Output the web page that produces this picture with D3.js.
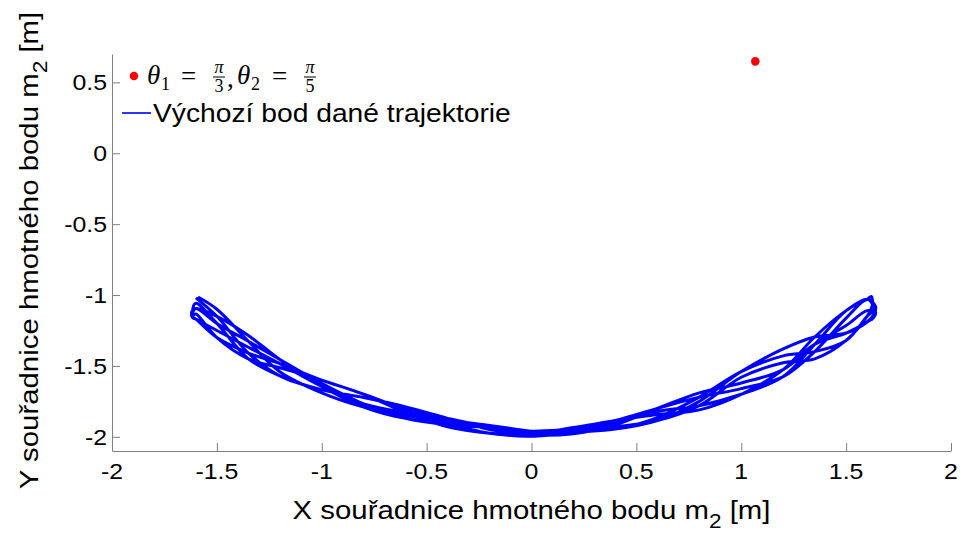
<!DOCTYPE html>
<html>
<head>
<meta charset="utf-8">
<script src="https://cdn.jsdelivr.net/npm/d3@7/dist/d3.min.js"></script>
<style>
  html, body { margin: 0; padding: 0; background: #fff; }
  svg { display: block; }
</style>
</head>
<body>
<svg id="chart" width="967" height="539"></svg>
<script>
// Axis ticks
const xTicks = [-2, -1.5, -1, -0.5, 0, 0.5, 1, 1.5, 2];
const yTicks = [-2, -1.5, -1, -0.5, 0, 0.5];
const xDomain = [-2, 2];
const yDomain = [-2.1, 0.7];

// Starting point of m2 (red marker)
const startPoint = [1.067, 0.648];

// Trajectory of m2, one array per swing, in order of travel
const swing1 = [[-1.59,-1.014],[-1.5,-1.10],[-1.35,-1.326],[-1.2,-1.541],[-1.0,-1.69],[-0.8,-1.79],[-0.6,-1.85],[-0.4,-1.885],[-0.2,-1.92],[0,-1.969],[0.2,-1.967],[0.4,-1.945],[0.6,-1.885],[0.8,-1.75],[1.0,-1.54],[1.2,-1.38],[1.35,-1.296],[1.5,-1.268],[1.6,-1.19],[1.635,-1.13],[1.64,-1.08]];
const swing2 = [[1.6,-1.03],[1.5,-1.11],[1.35,-1.296],[1.2,-1.526],[1.0,-1.70],[0.8,-1.81],[0.6,-1.843],[0.4,-1.885],[0.2,-1.935],[0,-1.978],[-0.2,-1.975],[-0.4,-1.93],[-0.6,-1.83],[-0.8,-1.70],[-1.0,-1.60],[-1.2,-1.484],[-1.35,-1.409],[-1.5,-1.30],[-1.6,-1.17],[-1.62,-1.15],[-1.615,-1.12]];
const swing3 = [[-1.6,-1.095],[-1.5,-1.20],[-1.35,-1.326],[-1.2,-1.455],[-1.0,-1.623],[-0.8,-1.768],[-0.6,-1.87],[-0.4,-1.915],[-0.2,-1.934],[0,-1.96],[0.2,-1.946],[0.4,-1.93],[0.6,-1.885],[0.8,-1.78],[1.0,-1.58],[1.2,-1.478],[1.35,-1.45],[1.5,-1.32],[1.6,-1.15],[1.625,-1.07],[1.62,-1.01]];
const swing4 = [[1.6,-1.03],[1.5,-1.11],[1.35,-1.348],[1.2,-1.575],[1.0,-1.70],[0.8,-1.78],[0.6,-1.821],[0.4,-1.885],[0.2,-1.946],[0,-1.986],[-0.2,-1.975],[-0.4,-1.90],[-0.6,-1.79],[-0.8,-1.723],[-1.0,-1.668],[-1.2,-1.57],[-1.35,-1.45],[-1.5,-1.20],[-1.6,-1.058],[-1.615,-1.10],[-1.61,-1.14]];
const swing5 = [[-1.6,-1.133],[-1.5,-1.30],[-1.35,-1.45],[-1.2,-1.513],[-1.0,-1.60],[-0.8,-1.70],[-0.6,-1.81],[-0.4,-1.915],[-0.2,-1.975],[0,-1.995],[0.2,-1.957],[0.4,-1.885],[0.6,-1.80],[0.8,-1.72],[1.0,-1.66],[1.2,-1.575],[1.35,-1.399],[1.5,-1.163],[1.6,-1.03],[1.625,-1.06],[1.635,-1.10]];
const swing6 = [[1.6,-1.15],[1.5,-1.32],[1.35,-1.399],[1.2,-1.429],[1.0,-1.54],[0.8,-1.72],[0.6,-1.864],[0.4,-1.945],[0.2,-1.957],[0,-1.96],[-0.2,-1.92],[-0.4,-1.90],[-0.6,-1.87],[-0.8,-1.79],[-1.0,-1.645],[-1.2,-1.455],[-1.35,-1.285],[-1.5,-1.15],[-1.6,-1.095],[-1.62,-1.12],[-1.615,-1.16]];
const swing7 = [[-1.6,-1.17],[-1.5,-1.25],[-1.35,-1.368],[-1.2,-1.484],[-1.0,-1.645],[-0.8,-1.768],[-0.6,-1.83],[-0.4,-1.87],[-0.2,-1.934],[0,-1.986],[0.2,-1.978],[0.4,-1.915],[0.6,-1.80],[0.8,-1.69],[1.0,-1.62],[1.2,-1.526],[1.35,-1.348],[1.5,-1.215],[1.6,-1.11],[1.64,-1.12],[1.63,-1.16]];
const swing8 = [[1.6,-1.19],[1.5,-1.268],[1.35,-1.348],[1.2,-1.526],[1.0,-1.70],[0.8,-1.78],[0.6,-1.821],[0.4,-1.90],[0.2,-1.967],[0,-1.995],[-0.2,-1.948],[-0.4,-1.87],[-0.6,-1.79],[-0.8,-1.723],[-1.0,-1.668],[-1.2,-1.57],[-1.35,-1.409],[-1.5,-1.15],[-1.6,-1.02]];

const trajectory = [swing1, swing2, swing3, swing4, swing5, swing6, swing7, swing8].flat();

// Layout
const W = 967, H = 539;
const margin = { left: 112, right: 16, top: 54, bottom: 88 };
const SX = 1.13;               // horizontal widening of the sans glyphs
const sans = "'Liberation Sans', Arial, Helvetica, sans-serif";
const serif = "'Liberation Serif', 'DejaVu Serif', serif";

const svg = d3.select('#chart');
const x = d3.scaleLinear().domain(xDomain).range([margin.left, W - margin.right]);
const y = d3.scaleLinear().domain(yDomain).range([H - margin.bottom, margin.top]);

function label(g, px, py, str, size, anchor, rot) {
  return g.append('text')
    .attr('transform', `translate(${px},${py}) rotate(${rot || 0}) scale(${SX},1)`)
    .attr('font-family', sans)
    .attr('font-size', size)
    .attr('text-anchor', anchor)
    .attr('fill', '#000')
    .text(str);
}

// Axes: inward ticks, grey lines
const axisColor = '#808080';
const gx = svg.append('g')
  .attr('transform', `translate(0,${y(yDomain[0])})`)
  .call(d3.axisBottom(x).tickValues(xTicks).tickSizeInner(-8).tickSizeOuter(0).tickFormat(''));
const gy = svg.append('g')
  .attr('transform', `translate(${x(xDomain[0])},0)`)
  .call(d3.axisLeft(y).tickValues(yTicks).tickSizeInner(-8).tickSizeOuter(0).tickFormat(''));
[gx, gy].forEach(g => {
  g.selectAll('path.domain').attr('stroke', axisColor).attr('stroke-width', 1);
  g.selectAll('.tick line').attr('stroke', axisColor).attr('stroke-width', 1);
  g.selectAll('.tick text').remove();
});

// Tick labels
const tl = svg.append('g');
xTicks.forEach(v => label(tl, x(v), y(yDomain[0]) + 28, String(v), 22, 'middle'));
yTicks.forEach(v => label(tl, x(xDomain[0]) - 5, y(v) + 8, String(v), 22, 'end'));

// Axis titles with subscript 2
function titleWithSub(px, py, rot, before, sub, after) {
  const t = svg.append('text')
    .attr('transform', `translate(${px},${py}) rotate(${rot}) scale(${SX},1)`)
    .attr('font-family', sans)
    .attr('font-size', 26)
    .attr('text-anchor', 'middle')
    .attr('fill', '#000');
  t.append('tspan').text(before);
  t.append('tspan').attr('dy', 9).attr('font-size', 20).text(sub);
  t.append('tspan').attr('dy', -9).text(after);
  return t;
}
titleWithSub((x(xDomain[0]) + x(xDomain[1])) / 2, 519, 0, 'X souřadnice hmotného bodu m', '2', ' [m]');
titleWithSub(38, (y(yDomain[0]) + y(yDomain[1])) / 2 - 2, -90, 'Y souřadnice hmotného bodu m', '2', ' [m]');

// Trajectory
const line = d3.line()
  .x(d => x(d[0]))
  .y(d => y(d[1]))
  .curve(d3.curveCatmullRom.alpha(0.5));
svg.append('path')
  .datum(trajectory)
  .attr('d', line)
  .attr('fill', 'none')
  .attr('stroke', '#0000ff')
  .attr('stroke-width', 3)
  .attr('stroke-linejoin', 'round');

// Start point
svg.append('circle')
  .attr('cx', x(startPoint[0]))
  .attr('cy', y(startPoint[1]))
  .attr('r', 4.3)
  .attr('fill', '#ff0000');

// Legend
const lg = svg.append('g');
lg.append('circle').attr('cx', 134).attr('cy', 76).attr('r', 4.3).attr('fill', '#ff0000');

function mathText(px, py, str, size, italic) {
  return lg.append('text').attr('x', px).attr('y', py)
    .attr('font-family', serif).attr('font-size', size)
    .attr('font-style', italic ? 'italic' : 'normal')
    .attr('fill', '#000').text(str);
}
function fraction(cx, num, den) {
  lg.append('text').attr('x', cx).attr('y', 73).attr('font-family', serif)
    .attr('font-size', 18).attr('font-style', 'italic').attr('text-anchor', 'middle').text(num);
  lg.append('line').attr('x1', cx - 6).attr('x2', cx + 6).attr('y1', 77).attr('y2', 77)
    .attr('stroke', '#000').attr('stroke-width', 1);
  lg.append('text').attr('x', cx).attr('y', 92).attr('font-family', serif)
    .attr('font-size', 18).attr('text-anchor', 'middle').text(den);
}
mathText(147, 84, 'θ', 27, true);
mathText(161, 90, '1', 18, false);
mathText(181, 85, '=', 27, false);
fraction(219, 'π', '3');
mathText(227, 87, ',', 27, false);
mathText(237, 84, 'θ', 27, true);
mathText(251, 90, '2', 18, false);
mathText(272, 85, '=', 27, false);
fraction(310, 'π', '5');

lg.append('line').attr('x1', 122).attr('x2', 151).attr('y1', 113).attr('y2', 113)
  .attr('stroke', '#0000ff').attr('stroke-width', 1.6);
label(lg, 153, 122, 'Výchozí bod dané trajektorie', 25, 'start');
</script>
</body>
</html>
